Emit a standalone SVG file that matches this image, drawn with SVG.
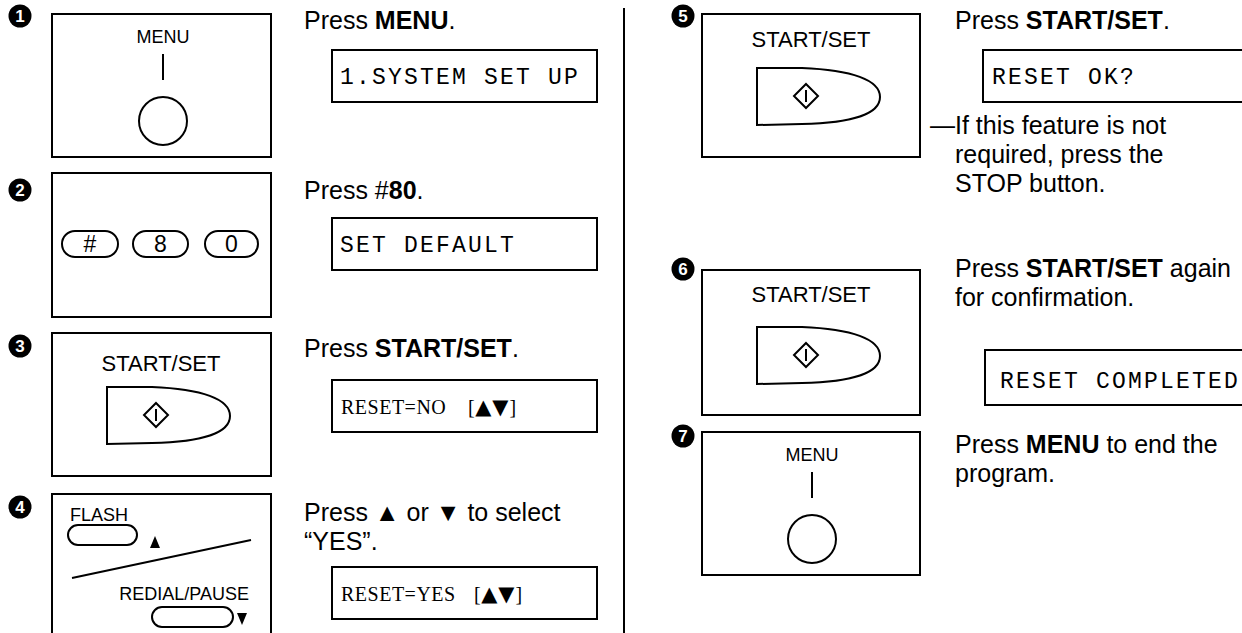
<svg xmlns="http://www.w3.org/2000/svg" width="1242" height="633" viewBox="0 0 1242 633">
<style>
.bx{fill:none;stroke:#000;stroke-width:2}
.ln{fill:none;stroke:#000;stroke-width:2}
.num circle{fill:#000}
.num text{fill:#fff;font-family:"Liberation Sans",Arial,sans-serif;font-weight:bold;font-size:17px;text-anchor:middle}
.t{font-family:"Liberation Sans",Arial,sans-serif;font-size:25px;fill:#000}
.b{font-weight:bold}
.lbl{font-family:"Liberation Sans",Arial,sans-serif;font-size:18px;fill:#000}
.lbl2{font-family:"Liberation Sans",Arial,sans-serif;font-size:22px;fill:#000;text-anchor:middle}
.mono{font-family:"Liberation Mono","Courier New",monospace;font-size:23px;letter-spacing:2.2px;fill:#000}
.ser{font-family:"Liberation Serif","Times New Roman",serif;font-size:20px;letter-spacing:0.5px;fill:#000}
.tri{font-family:"DejaVu Sans",sans-serif;font-size:21px;letter-spacing:1px}
.key{font-family:"Liberation Sans",Arial,sans-serif;font-size:23px;fill:#000;text-anchor:middle}
</style>
<defs>
<g id="startbtn">
<path class="ln" d="M0,0 L45,0 C95,2 123,12 123,29 C123,46 95,55 45,56 L0,57 Z"/>
<path class="ln" d="M49,16 L61,28 L49,40 L37,28 Z"/>
<line class="ln" x1="49" y1="22" x2="49" y2="34" stroke-width="1.6"/>
</g>
<g id="menubtn">
<text class="lbl" x="0" y="0" text-anchor="middle" font-size="17">MENU</text>
<line class="ln" x1="0" y1="11" x2="0" y2="37"/>
<circle class="ln" cx="0" cy="78" r="24" stroke-width="2"/>
</g>
</defs>

<g id="divider">
<line x1="624" y1="8" x2="624" y2="633" stroke="#000" stroke-width="2"/>
</g>

<g id="step1">
<g class="num"><circle cx="20" cy="16" r="11.5"/><text x="20" y="22">1</text></g>
<rect class="bx" x="52" y="14" width="219" height="143"/>
<use href="#menubtn" x="163" y="43"/>
<text class="t" x="304" y="29">Press <tspan class="b">MENU</tspan>.</text>
<rect class="bx" x="332" y="50" width="265" height="52"/>
<text class="mono" x="340" y="84">1.SYSTEM SET UP</text>
</g>

<g id="step2">
<g class="num"><circle cx="20" cy="190" r="11.5"/><text x="20" y="196">2</text></g>
<rect class="bx" x="52" y="173" width="219" height="144"/>
<rect class="ln" x="62" y="231" width="56" height="26" rx="13"/>
<rect class="ln" x="133" y="231" width="55" height="26" rx="13"/>
<rect class="ln" x="205" y="231" width="53" height="26" rx="13"/>
<text class="key" x="90" y="252">#</text>
<text class="key" x="160.5" y="252">8</text>
<text class="key" x="231.5" y="252">0</text>
<text class="t" x="304" y="199">Press #<tspan class="b">80</tspan>.</text>
<rect class="bx" x="332" y="218" width="265" height="52"/>
<text class="mono" x="340" y="252">SET DEFAULT</text>
</g>

<g id="step3">
<g class="num"><circle cx="20" cy="346" r="11.5"/><text x="20" y="352">3</text></g>
<rect class="bx" x="52" y="333" width="219" height="143"/>
<text class="lbl2" x="161" y="371">START/SET</text>
<use href="#startbtn" x="107" y="387"/>
<text class="t" x="304" y="357">Press <tspan class="b">START/SET</tspan>.</text>
<rect class="bx" x="332" y="380" width="265" height="52"/>
<text class="ser" x="341" y="414">RESET=NO<tspan x="468">[</tspan><tspan class="tri">▲▼</tspan>]</text>
</g>

<g id="step4">
<g class="num"><circle cx="20" cy="507" r="11.5"/><text x="20" y="513">4</text></g>
<path class="bx" d="M52,640 L52,494 L271,494 L271,640"/>
<text class="lbl" x="70" y="521">FLASH</text>
<rect class="ln" x="68" y="525" width="69" height="20" rx="10"/>
<polygon points="150,548 160,548 155,536" fill="#000"/>
<line class="ln" x1="72" y1="578" x2="251" y2="540"/>
<text class="lbl" x="249" y="600" text-anchor="end">REDIAL/PAUSE</text>
<rect class="ln" x="152" y="607" width="81" height="20" rx="10"/>
<polygon points="237,613 247,613 242,625" fill="#000"/>
<text class="t" x="304" y="521">Press ▲ or ▼ to select</text>
<text class="t" x="304" y="550">“YES”.</text>
<rect class="bx" x="332" y="567" width="265" height="52"/>
<text class="ser" x="341" y="601">RESET=YES<tspan x="474">[</tspan><tspan class="tri">▲▼</tspan>]</text>
</g>

<g id="step5">
<g class="num"><circle cx="683" cy="16" r="11.5"/><text x="683" y="22">5</text></g>
<rect class="bx" x="702" y="14" width="218" height="143"/>
<text class="lbl2" x="811" y="47">START/SET</text>
<use href="#startbtn" x="757" y="68"/>
<text class="t" x="955" y="29">Press <tspan class="b">START/SET</tspan>.</text>
<path class="bx" d="M1250,50 L983,50 L983,102 L1250,102"/>
<text class="mono" x="992" y="84">RESET OK?</text>
<text class="t" x="930" y="134">—If this feature is not</text>
<text class="t" x="955" y="163">required, press the</text>
<text class="t" x="955" y="192">STOP button.</text>
</g>

<g id="step6">
<g class="num"><circle cx="683" cy="269" r="11.5"/><text x="683" y="275">6</text></g>
<rect class="bx" x="702" y="270" width="218" height="145"/>
<text class="lbl2" x="811" y="302">START/SET</text>
<use href="#startbtn" x="757" y="327"/>
<text class="t" x="955" y="277">Press <tspan class="b">START/SET</tspan> again</text>
<text class="t" x="955" y="306">for confirmation.</text>
<path class="bx" d="M1250,350 L985,350 L985,405 L1250,405"/>
<text class="mono" x="1000" y="388">RESET COMPLETED</text>
</g>

<g id="step7">
<g class="num"><circle cx="683" cy="436" r="11.5"/><text x="683" y="442">7</text></g>
<rect class="bx" x="702" y="432" width="218" height="143"/>
<use href="#menubtn" x="812" y="461"/>
<text class="t" x="955" y="453">Press <tspan class="b">MENU</tspan> to end the</text>
<text class="t" x="955" y="482">program.</text>
</g>
</svg>
